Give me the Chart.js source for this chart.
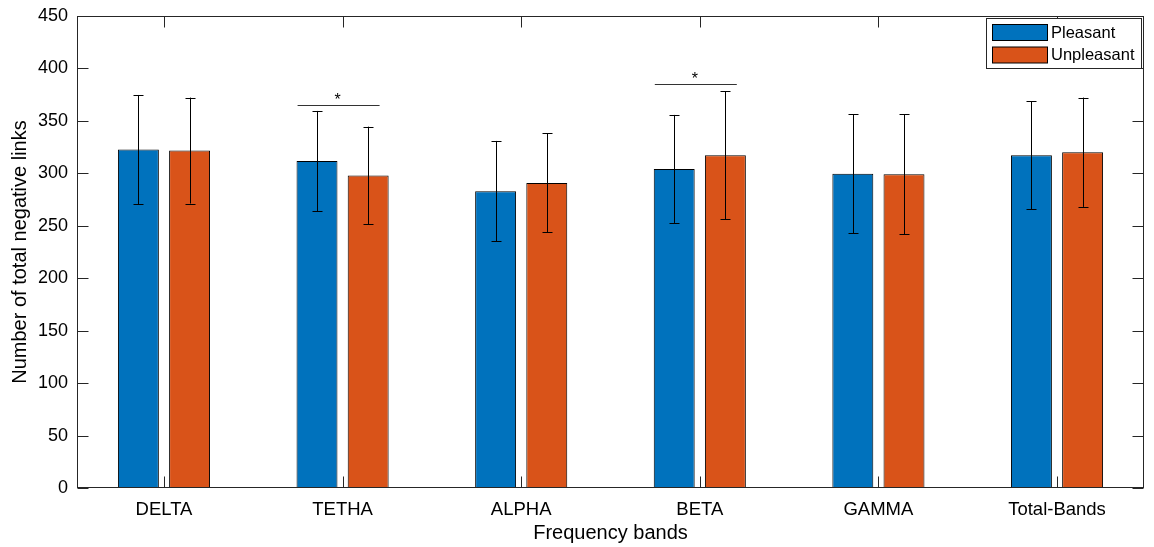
<!DOCTYPE html>
<html>
<head>
<meta charset="utf-8">
<script src="https://cdn.jsdelivr.net/npm/chart.js@4.4.1/dist/chart.umd.min.js"></script>
<style>
html,body{margin:0;padding:0;background:#fff;}
#wrap{width:1154px;height:547px;position:relative;}
</style>
</head>
<body>
<div id="wrap"><canvas id="c" width="1154" height="547"></canvas></div>
<script>
// ---- data ----
const categories = ['DELTA','TETHA','ALPHA','BETA','GAMMA','Total-Bands'];
const pleasant = [322.7, 311.8, 283.0, 304.2, 299.5, 317.3];
const pleasantErr = [52.0, 47.7, 47.9, 51.5, 56.8, 51.4];
const unpleasant = [321.7, 297.9, 290.9, 317.3, 299.2, 320.1];
const unpleasantErr = [50.5, 46.6, 47.3, 60.9, 57.1, 52.1];
const sigBands = ['TETHA','BETA'];
const sigLevels = [365, 385];
const yTicks = [0,50,100,150,200,250,300,350,400,450];

const AX = '#262626';
const FONT = '"Liberation Sans", Arial, Helvetica, sans-serif';

const errorBars = {
  id:'errorBars',
  afterDatasetsDraw(chart){
    const ctx = chart.ctx, ys = chart.scales.y;
    chart.data.datasets.forEach((ds, di)=>{
      const meta = chart.getDatasetMeta(di);
      meta.data.forEach((bar, i)=>{
        const v = ds.data[i], e = ds.errors[i];
        const yt = ys.getPixelForValue(v+e), yb = ys.getPixelForValue(v-e);
        const x = Math.round(bar.x)+0.5;
        ctx.save();
        ctx.strokeStyle = '#000'; ctx.lineWidth = 1;
        ctx.beginPath();
        ctx.moveTo(x, yt); ctx.lineTo(x, yb);
        ctx.moveTo(x-5, Math.round(yt)+0.5); ctx.lineTo(x+5, Math.round(yt)+0.5);
        ctx.moveTo(x-5, Math.round(yb)+0.5); ctx.lineTo(x+5, Math.round(yb)+0.5);
        ctx.stroke();
        ctx.restore();
      });
    });
  }
};

const sigMarks = {
  id:'sigMarks',
  afterDatasetsDraw(chart){
    const ctx = chart.ctx, xs = chart.scales.x, ys = chart.scales.y;
    sigBands.forEach((b, k)=>{
      const cx = xs.getPixelForValue(categories.indexOf(b));
      const y = Math.round(ys.getPixelForValue(sigLevels[k]))+0.5;
      ctx.save();
      ctx.strokeStyle = '#333'; ctx.lineWidth = 1;
      ctx.beginPath(); ctx.moveTo(cx-45, y); ctx.lineTo(cx+37, y); ctx.stroke();
      ctx.fillStyle = '#000';
      ctx.font = '16px ' + FONT;
      ctx.textAlign = 'center'; ctx.textBaseline = 'alphabetic';
      ctx.fillText('*', cx-5, y-1);
      ctx.restore();
    });
  }
};

const frame = {
  id:'frame',
  afterDraw(chart){
    const ctx = chart.ctx, a = chart.chartArea, xs = chart.scales.x, ys = chart.scales.y;
    const L = Math.round(a.left)+0.5, R = Math.round(a.right)-0.5, T = Math.round(a.top)+0.5, B = Math.round(a.bottom)-0.5;
    ctx.save();
    ctx.strokeStyle = AX; ctx.lineWidth = 1;
    ctx.strokeRect(L, T, R-L, B-T);
    ctx.beginPath();
    yTicks.forEach(v=>{
      const y = Math.round(ys.getPixelForValue(v))+0.5;
      ctx.moveTo(L, y); ctx.lineTo(L+11, y);
      ctx.moveTo(R, y); ctx.lineTo(R-11, y);
    });
    categories.forEach((c,i)=>{
      const x = Math.round(xs.getPixelForValue(i))+0.5;
      ctx.moveTo(x, B); ctx.lineTo(x, B-11);
      ctx.moveTo(x, T); ctx.lineTo(x, T+11);
    });
    ctx.stroke();
    // legend
    const lx = 986.5, ly = 18.5, lw = 155, lh = 50;
    ctx.fillStyle = '#fff'; ctx.fillRect(lx, ly, lw, lh);
    ctx.strokeStyle = '#262626'; ctx.strokeRect(lx, ly, lw, lh);
    chart.data.datasets.forEach((ds, k)=>{
      const sy = 24.5 + k*22.5;
      ctx.fillStyle = ds.backgroundColor;
      ctx.fillRect(992.5, sy, 55, 16);
      ctx.strokeStyle = '#000'; ctx.strokeRect(992.5, sy, 55, 16);
      ctx.fillStyle = '#000';
      ctx.font = '16.5px ' + FONT;
      ctx.textAlign = 'left'; ctx.textBaseline = 'middle';
      ctx.fillText(ds.label, 1051, sy+8.5);
    });
    ctx.restore();
  }
};

new Chart(document.getElementById('c'), {
  type:'bar',
  data:{
    labels: categories,
    datasets:[
      {label:'Pleasant', data: pleasant, errors: pleasantErr, backgroundColor:'#0072BD', borderColor:'#000', borderWidth:1,
       categoryPercentage:0.573, barPercentage:0.8},
      {label:'Unpleasant', data: unpleasant, errors: unpleasantErr, backgroundColor:'#D95319', borderColor:'#000', borderWidth:1,
       categoryPercentage:0.573, barPercentage:0.8}
    ]
  },
  options:{
    responsive:false,
    animation:false,
    devicePixelRatio:1,
    layout:{padding:{left:0, top:16, right:10, bottom:0}},
    plugins:{legend:{display:false}, tooltip:{enabled:false}},
    scales:{
      x:{
        grid:{display:false, drawTicks:false},
        border:{display:false},
        ticks:{color:'#000', font:{family:FONT, size:18.5}, padding:11, maxRotation:0},
        title:{display:true, text:'Frequency bands', color:'#000', font:{family:FONT, size:20}, padding:{top:2, bottom:2}},
        afterFit(s){ s.height = 59; s.paddingLeft = 0; s.paddingRight = 0; },
        afterUpdate(s){
          if (!s._patched) {
            const base = Object.getPrototypeOf(s).configure;
            s.configure = function(){ base.call(this); this._startValue = -0.487; this._valueRange = 5.974; };
            s._patched = true;
          }
          s.configure();
        }
      },
      y:{
        min:0, max:450,
        afterBuildTicks(s){ s.ticks = yTicks.map(v=>({value:v})); },
        grid:{display:false, drawTicks:false},
        border:{display:false},
        ticks:{color:'#000', font:{family:FONT, size:18}, padding:9},
        title:{display:true, text:'Number of total negative links', color:'#000', font:{family:FONT, size:20}, padding:{top:8, bottom:2}},
        afterFit(s){ s.width = 77; s.paddingTop = 0; s.paddingBottom = 0; }
      }
    }
  },
  plugins:[errorBars, sigMarks, frame]
});
</script>
</body>
</html>
